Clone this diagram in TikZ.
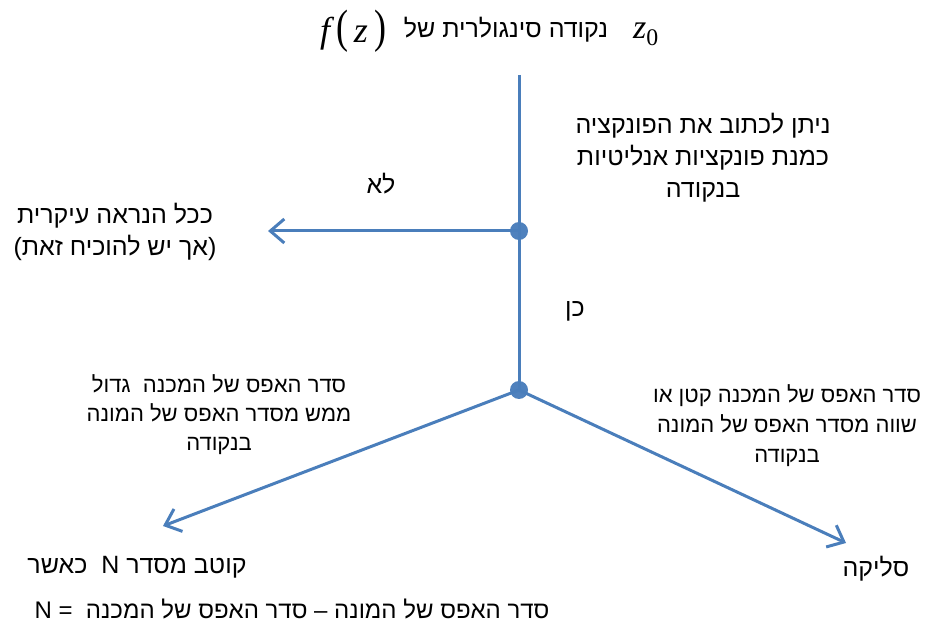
\documentclass[tikz,border=0pt]{standalone}
\usepackage{fontspec}
\usetikzlibrary{arrows.meta}
\TeXXeTstate=1
\newfontfamily\heb[Script=Hebrew]{Liberation Sans}
\newfontfamily\serifmath{Liberation Serif}
\newcommand\hebline[1]{\beginR #1\endR}
\definecolor{lineblue}{HTML}{4A7EBB}
\definecolor{dotblue}{HTML}{4F81BD}
\tikzset{
  conn/.style={draw=lineblue, line width=3pt},
  arr/.style={conn, -{Straight Barb[length=14pt,width=24pt,line width=3pt]}},
  dotnode/.style={circle, fill=dotblue, minimum size=18pt, inner sep=0pt},
  hebtext/.style={align=center, inner sep=0pt, font=\heb\fontsize{25}{32}\selectfont},
  hebsmall/.style={hebtext, font=\heb\fontsize{22}{29}\selectfont},
}
\begin{document}
\begin{tikzpicture}[x=1pt, y=-1pt]
\useasboundingbox (0,0) rectangle (927,628);
% title
\node[inner sep=0pt, font=\serifmath\fontsize{36}{36}\selectfont] (fz) at (353,31) {\itshape f\,\scalebox{1}[1.3]{\upshape(}\,z\,\scalebox{1}[1.3]{\upshape)}};
\node[hebtext] (title) at (506,30) {\hebline{נקודה סינגולרית של}};
\node[inner sep=0pt, font=\serifmath\fontsize{34}{34}\selectfont] (z0) at (646,34) {\itshape z\textsubscript{\upshape 0}};
% structure
\coordinate (top) at (519,75);
\node[dotnode] (d1) at (519,231) {};
\node[dotnode] (d2) at (519,390) {};
\coordinate (eL) at (268,231);
\coordinate (eLL) at (163,526);
\coordinate (eLR) at (846,543);
\draw[conn] (top) -- (d1.center);
\draw[conn] (d1.center) -- (d2.center);
\draw[arr] (d1.center) -- (eL);
\draw[arr] (d2.center) -- (eLL);
\draw[arr] (d2.center) -- (eLR);
% labels
\node[hebtext] (tR) at (703,158) {\hebline{ניתן לכתוב את הפונקציה}\\ \hebline{כמנת פונקציות אנליטיות}\\ \hebline{בנקודה}};
\node[hebtext] (no) at (381,184) {\hebline{לא}};
\node[hebtext] (tL) at (115,232) {\hebline{ככל הנראה עיקרית}\\ \hebline{(אך יש להוכיח זאת)}};
\node[hebtext] (yes) at (575,311) {\hebline{כן}};
\node[hebsmall] (tLL) at (219,415) {\hebline{סדר האפס של המכנה\ \ גדול}\\ \hebline{ממש מסדר האפס של המונה}\\ \hebline{בנקודה}};
\node[hebsmall, font=\heb\fontsize{22}{30}\selectfont] (tLR) at (787,426) {\hebline{סדר האפס של המכנה קטן או}\\ \hebline{שווה מסדר האפס של המונה}\\ \hebline{בנקודה}};
\node[hebtext] (pole) at (137,567) {\hebline{קוטב מסדר N\ \ כאשר}};
\node[hebtext, font=\heb\fontsize{24}{32}\selectfont] (eq) at (292,609) {\hebline{סדר האפס של המונה – סדר האפס של המכנה\ \ = N}};
\node[hebtext] (smooth) at (876,569) {\hebline{סליקה}};
\end{tikzpicture}
\end{document}
